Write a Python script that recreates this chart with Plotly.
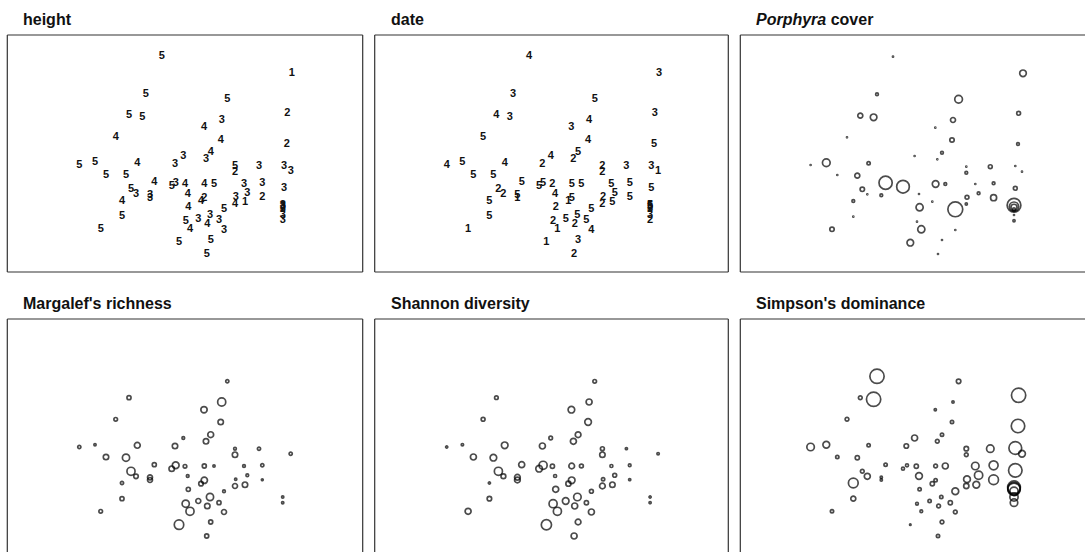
import plotly.graph_objects as go

# ---- NMDS site scores and site attributes -------------------------------
site_x = [-0.183, 1.117, -0.343, 0.473, -0.510, -0.377, 1.073, 0.417, 0.240, -0.643,
          0.407, 1.067, 0.307, 0.260, -1.007, -0.850, -0.427, -0.050, 0.033, -0.740,
          -0.540, 0.550, 0.550, 0.790, 1.040, 1.107, -0.257, -0.083, -0.043, 0.050,
          0.243, 0.340, 0.640, 0.823, 1.040, -0.490, -0.440, -0.300, -0.300, 0.077,
          0.673, 0.557, 0.823, 0.243, 0.210, -0.580, 0.083, 0.550, 0.650, 0.440,
          1.027, 1.027, 1.027, 1.027, 1.027, 1.027, -0.580, 0.057, 0.100, 0.183,
          0.300, 0.273, 0.390, 0.440, -0.793, -0.010, 0.307, 0.267]
site_y = [1.133, 0.967, 0.757, 0.707, 0.543, 0.527, 0.567, 0.500, 0.423, 0.327,
          0.300, 0.260, 0.173, 0.107, 0.050, 0.073, 0.067, 0.060, 0.140, -0.050,
          -0.057, 0.033, -0.027, 0.033, 0.040, -0.017, -0.127, -0.167, -0.133, -0.143,
          -0.140, -0.140, -0.140, -0.133, -0.183, -0.193, -0.243, -0.253, -0.280, -0.240,
          -0.233, -0.273, -0.277, -0.283, -0.317, -0.310, -0.373, -0.340, -0.327, -0.393,
          -0.353, -0.367, -0.373, -0.393, -0.450, -0.507, -0.467, -0.517, -0.593, -0.490,
          -0.450, -0.540, -0.507, -0.600, -0.593, -0.727, -0.700, -0.840]

height_class = [5, 1, 5, 5, 5, 5, 2, 3, 4, 4,
                4, 2, 4, 3, 5, 5, 4, 3, 3, 5,
                5, 5, 2, 3, 3, 3, 4, 5, 3, 4,
                4, 5, 3, 3, 3, 5, 3, 3, 3, 4,
                3, 3, 2, 2, 4, 4, 4, 4, 1, 5,
                3, 3, 3, 3, 3, 3, 5, 5, 4, 3,
                3, 4, 3, 3, 5, 5, 5, 5]
date_class = [4, 3, 3, 5, 4, 3, 3, 4, 3, 5,
              4, 5, 5, 2, 4, 5, 4, 2, 4, 5,
              5, 2, 2, 3, 3, 1, 5, 5, 5, 2,
              5, 5, 5, 5, 5, 2, 2, 5, 1, 4,
              5, 2, 5, 5, 1, 5, 2, 2, 5, 5,
              5, 5, 3, 3, 3, 2, 5, 2, 1, 5,
              5, 2, 5, 4, 1, 1, 3, 2]
porphyra_cover = [2, 12, 5, 14, 9, 12, 7, 9, 1, 1,
                  8, 5, 5, 1, 1, 14, 6, 0, 1, 1,
                  9, 1, 5, 7, 1, 1, 24, 23, 0, 0,
                  12, 5, 1, 5, 7, 8, 1, 5, 0, 1,
                  5, 7, 11, 0, 1, 5, 13, 4, 0, 27,
                  25, 17, 11, 5, 1, 4, 1, 1, 13, 0,
                  0, 0, 0, 1, 8, 12, 1, 1]
margalef_richness = [None, None, 0, 0.7, 0.9, 0, 0, 1.8, 1.4, 0.8,
                     1.2, 0, 1.3, 1.2, 0.7, 0.5, 1.3, 1.2, 0.6, 1.2,
                     1.6, 0.6, 1.2, 0.7, 0, 0.7, 0.9, 1.2, 1.5, 0.8,
                     0.9, 0.5, 0.6, 0.7, 0, 1.8, 1.0, 1.1, 1.1, 0.6,
                     0.6, 0.5, 0.4, 1.4, 1.0, 0.7, 0.9, 1.1, 1.2, 0.6,
                     0, 0, 0, 0, 0.5, 0.5, 0.9, 1.6, 1.8, 1.1,
                     1.6, 1.2, 0.9, 1.1, 0.8, 2.1, 0.9, 0.9]
shannon_diversity = [None, None, 0, 0.6, 0.6, 0, 0, 1.0, 1.1, 0.65,
                     1.1, 0, 0.95, 1.0, 0.35, 0.4, 1.1, 1.0, 0.6, 1.0,
                     1.1, 0.65, 0.9, 0.35, 0, 0.4, 1.0, 1.1, 1.35, 0.7,
                     0.95, 0.65, 0.5, 0.45, 0, 1.35, 0.8, 0.95, 0.95, 0.5,
                     0.65, 0.55, 0.35, 1.1, 0.85, 0.35, 1.0, 0.95, 0.9, 0.65,
                     0, 0, 0, 0, 0.35, 0.35, 0.75, 1.35, 1.35, 1.1,
                     1.25, 1.0, 0.7, 1.0, 1.0, 1.7, 0.95, 1.0]
simpson_dominance = [None, None, 0.95, 0.3, 0.25, 0.95, 0.95, 0.15, 0.15, 0.25,
                     0.22, 0.9, 0.22, 0.25, 0.5, 0.45, 0.22, 0.3, 0.4, 0.22,
                     0.28, 0.3, 0.25, 0.5, 0.85, 0.45, 0.22, 0.2, 0.2, 0.28,
                     0.25, 0.4, 0.5, 0.6, 0.9, 0.25, 0.4, 0.15, 0.15, 0.45,
                     0.55, 0.45, 0.65, 0.22, 0.28, 0.65, 0.22, 0.35, 0.45, 0.45,
                     0.85, 0.84, 0.83, 0.55, 0.55, 0.5, 0.33, 0.18, 0.18, 0.22,
                     0.22, 0.25, 0.28, 0.25, 0.22, 0.1, 0.25, 0.22]

# ---- page geometry (pixels) ----------------------------------------------
W, H = 1085, 552
col_left = [7.3, 374.7, 740.3]
col_right = [362.7, 728.3, 1095.0]   # last column runs past the page edge
row_top = [35.0, 319.0]
row_bottom = [272.0, 556.0]          # lower row runs past the page edge
PX = 0.01                            # ordination units per pixel
x_start = [-1.727, -1.727, -1.710]
y_start = [1.35, 1.33]

INK = "#000000"
FONT = "Liberation Sans, Arial, Helvetica, sans-serif"

fig = go.Figure()
layout = dict(width=W, height=H, margin=dict(l=0, r=0, t=0, b=0),
              paper_bgcolor="white", plot_bgcolor="white", showlegend=False)
shapes, annotations = [], []


def add_panel(idx, row, col, title):
    left, right = col_left[col], min(col_right[col], W)
    top, bottom = row_top[row], min(row_bottom[row], H)
    xr = [x_start[col], x_start[col] + (right - left) * PX]
    yr = [y_start[row] - (bottom - top) * PX, y_start[row]]
    sfx = "" if idx == 1 else str(idx)
    common = dict(visible=False, showgrid=False, zeroline=False, fixedrange=True)
    layout["xaxis" + sfx] = dict(domain=[left / W, right / W], range=xr,
                                 anchor="y" + sfx, **common)
    layout["yaxis" + sfx] = dict(domain=[1 - bottom / H, 1 - top / H], range=yr,
                                 anchor="x" + sfx, **common)
    # frame: only the sides that fall inside the page are drawn
    sides = [(left, top, col_right[col], top)]
    sides.append((left, top, left, row_bottom[row]))
    if col_right[col] <= W:
        sides.append((col_right[col], top, col_right[col], row_bottom[row]))
    if row_bottom[row] <= H:
        sides.append((left, row_bottom[row], col_right[col], row_bottom[row]))
    for x0, y0, x1, y1 in sides:
        shapes.append(dict(type="line", xref="paper", yref="paper",
                           x0=x0 / W, y0=1 - y0 / H, x1=min(x1, W) / W, y1=1 - min(y1, H) / H,
                           line=dict(color="#333333", width=1.2)))
    annotations.append(dict(xref="paper", yref="paper", x=(left + 14) / W,
                            y=1 - (top - 16) / H, xanchor="left", yanchor="middle",
                            text="<b>" + title + "</b>", showarrow=False,
                            font=dict(family=FONT, size=16, color="#111111")))
    return "x" + sfx, "y" + sfx


def label_panel(idx, row, col, title, labels):
    xa, ya = add_panel(idx, row, col, title)
    fig.add_trace(go.Scatter(x=site_x, y=site_y, mode="text",
                             text=[str(v) for v in labels],
                             textposition="middle center",
                             textfont=dict(family=FONT, size=11, color="#111111", weight="bold"),
                             xaxis=xa, yaxis=ya, hoverinfo="skip", cliponaxis=False))


def bubble_panel(idx, row, col, title, values, px_per_unit):
    xa, ya = add_panel(idx, row, col, title)
    keep = [i for i, v in enumerate(values) if v is not None and v > 0]
    fig.add_trace(go.Scatter(x=[site_x[i] for i in keep], y=[site_y[i] for i in keep],
                             mode="markers",
                             marker=dict(size=[values[i] for i in keep], sizemode="diameter",
                                         sizeref=1.0 / px_per_unit, sizemin=0.5,
                                         color="rgba(0,0,0,0)",
                                         line=dict(color=INK, width=1.7)),
                             xaxis=xa, yaxis=ya, hoverinfo="skip", cliponaxis=False))


label_panel(1, 0, 0, "height", height_class)
label_panel(2, 0, 1, "date", date_class)
bubble_panel(3, 0, 2, "<i>Porphyra</i> cover", porphyra_cover, 0.55)
bubble_panel(4, 1, 0, "Margalef's richness", margalef_richness, 4.5)
bubble_panel(5, 1, 1, "Shannon diversity", shannon_diversity, 6.0)
bubble_panel(6, 1, 2, "Simpson's dominance", simpson_dominance, 15.0)

layout["shapes"] = shapes
layout["annotations"] = annotations
fig.update_layout(**layout)
fig.write_html("out.html")
